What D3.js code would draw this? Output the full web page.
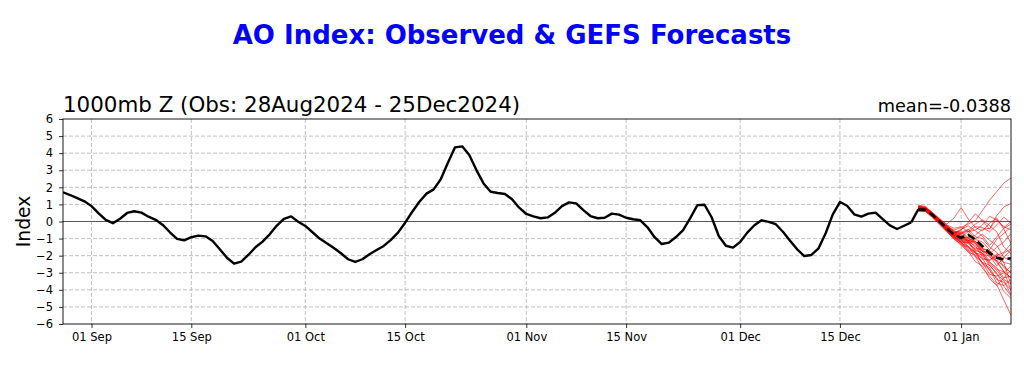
<!DOCTYPE html>
<html>
<head>
<meta charset="utf-8">
<script src="https://cdn.jsdelivr.net/npm/d3@7/dist/d3.min.js"></script>
<style>
  html, body { margin: 0; padding: 0; background: #fff; }
  svg { display: block; font-family: "DejaVu Sans", sans-serif; }
</style>
</head>
<body>
<svg id="chart" width="1024" height="366"></svg>
<script>
// ---------------- DATA ----------------
const titleText = "AO Index: Observed & GEFS Forecasts";
const subtitleLeft = "1000mb Z (Obs: 28Aug2024 - 25Dec2024)";
const subtitleRight = "mean=-0.0388";
const yLabel = "Index";

const obsStart = "2024-08-28";
const axisStart = "2024-08-28";
const axisEnd = "2025-01-08";
const fcstStart = "2024-12-26";

const xTickDates = ["2024-09-01","2024-09-15","2024-10-01","2024-10-15","2024-11-01",
                    "2024-11-15","2024-12-01","2024-12-15","2025-01-01"];
const yTicks = [-6,-5,-4,-3,-2,-1,0,1,2,3,4,5,6];

// observed daily AO index, 28 Aug 2024 .. 25 Dec 2024
const observed = [
  1.71,1.55,1.37,1.18,0.90,0.48,0.09,-0.10,0.16,0.50,
  0.60,0.52,0.28,0.10,-0.20,-0.63,-1.02,-1.10,-0.92,-0.83,
  -0.87,-1.14,-1.63,-2.12,-2.47,-2.35,-1.96,-1.51,-1.18,-0.75,
  -0.24,0.15,0.30,-0.01,-0.26,-0.63,-1.00,-1.27,-1.55,-1.86,
  -2.21,-2.37,-2.21,-1.92,-1.67,-1.43,-1.08,-0.65,-0.07,0.57,
  1.16,1.63,1.88,2.47,3.44,4.34,4.40,3.89,3.01,2.23,
  1.74,1.67,1.61,1.30,0.81,0.44,0.30,0.19,0.24,0.51,
  0.90,1.12,1.06,0.67,0.32,0.19,0.22,0.46,0.40,0.22,
  0.13,0.07,-0.34,-0.92,-1.32,-1.24,-0.91,-0.50,0.20,0.96,
  0.98,0.25,-0.85,-1.42,-1.53,-1.20,-0.65,-0.22,0.07,-0.02,
  -0.16,-0.60,-1.12,-1.63,-2.02,-1.96,-1.57,-0.69,0.42,1.14,
  0.92,0.42,0.29,0.46,0.52,0.14,-0.23,-0.44,-0.25,-0.05
];

// GEFS ensemble mean, 26 Dec 2024 .. 08 Jan 2025
const ensMean = [0.72,0.68,0.38,0.00,-0.40,-0.78,-0.95,-0.79,-1.05,-1.45,-1.85,-2.12,-2.22,-2.15];

// GEFS members, 26 Dec 2024 .. 08 Jan 2025
const members = [
  [0.92,0.84,0.50,0.08,-0.30,-0.50,-0.35,-0.15,0.05,0.65,1.25,1.75,2.25,2.55],
  [0.84,0.78,0.42,0.12,-0.15,0.20,0.82,0.15,-0.35,-0.55,-0.10,0.20,-0.45,-1.30],
  [0.78,0.70,0.36,0.02,-0.40,-0.72,-0.50,-0.05,0.45,0.05,-0.45,0.35,0.85,1.05],
  [0.66,0.62,0.28,-0.15,-0.55,-0.95,-1.05,-1.55,-1.75,-2.45,-2.70,-3.40,-3.55,-4.00],
  [0.82,0.72,0.42,0.02,-0.48,-0.90,-1.25,-1.70,-2.05,-2.75,-3.20,-3.70,-4.60,-5.50],
  [0.60,0.58,0.22,-0.20,-0.62,-1.00,-1.40,-1.75,-2.35,-2.60,-3.35,-3.75,-3.30,-2.85],
  [0.96,0.88,0.52,0.18,-0.22,-0.58,-0.72,-0.55,-1.05,-1.20,-1.65,-1.05,-0.70,-0.30],
  [0.74,0.71,0.34,-0.06,-0.46,-0.78,-0.98,-1.15,-1.70,-1.85,-2.50,-2.85,-3.40,-3.65],
  [0.70,0.66,0.30,-0.04,-0.38,-0.80,-0.90,-0.60,-0.30,-0.35,-0.60,-0.20,0.25,-0.10],
  [0.88,0.79,0.44,0.00,-0.36,-0.75,-0.85,-1.20,-1.40,-2.10,-2.35,-2.80,-2.95,-3.30],
  [0.79,0.74,0.36,-0.02,-0.44,-0.66,-0.55,-0.95,-1.25,-1.95,-2.00,-2.60,-2.10,-1.65],
  [0.71,0.65,0.33,-0.10,-0.52,-0.90,-1.10,-1.25,-1.60,-1.60,-2.10,-2.30,-2.95,-3.30],
  [0.83,0.77,0.46,0.06,-0.28,-0.60,-0.90,-0.95,-0.80,-0.45,-0.40,0.10,-0.30,-0.50],
  [0.64,0.61,0.25,-0.14,-0.58,-1.05,-1.30,-1.80,-1.95,-2.40,-2.55,-3.10,-3.45,-4.30],
  [0.90,0.83,0.49,0.11,-0.25,-0.55,-0.65,-1.00,-1.15,-1.70,-1.90,-1.50,-1.20,-0.70],
  [0.76,0.70,0.37,-0.03,-0.47,-0.80,-1.05,-1.20,-1.80,-2.15,-2.90,-3.30,-4.10,-4.50],
  [0.73,0.69,0.32,-0.05,-0.45,-0.84,-0.65,-0.45,-0.90,-1.00,-1.50,-1.80,-2.40,-2.50],
  [0.81,0.74,0.41,0.04,-0.34,-0.70,-0.95,-1.10,-1.50,-1.75,-2.30,-1.90,-2.70,-3.00],
  [0.68,0.63,0.30,-0.10,-0.54,-0.95,-1.20,-1.65,-1.85,-2.20,-2.25,-2.00,-1.80,-1.30],
  [0.87,0.80,0.47,0.09,-0.30,-0.62,-0.70,-0.50,-0.15,0.10,-0.25,-0.60,-1.50,-1.90],
  [0.77,0.72,0.38,0.00,-0.42,-0.82,-1.00,-1.45,-1.80,-2.50,-2.80,-3.60,-3.75,-3.40],
  [0.72,0.67,0.35,-0.07,-0.48,-0.85,-1.20,-1.25,-1.15,-1.60,-1.70,-2.30,-2.60,-3.00],
  [0.85,0.80,0.44,0.05,-0.33,-0.68,-0.78,-1.10,-1.30,-1.75,-1.85,-2.40,-2.90,-4.05],
  [0.62,0.60,0.27,-0.12,-0.56,-0.98,-1.35,-1.50,-1.85,-1.95,-2.60,-3.00,-3.80,-4.35],
  [0.80,0.73,0.40,0.01,-0.40,-0.72,-1.02,-1.15,-1.00,-0.75,-1.10,-1.40,-2.10,-2.30],
  [0.82,0.76,0.42,0.03,-0.35,-0.66,-0.45,-0.25,-0.55,-0.85,-1.40,-0.90,-0.40,-0.15],
  [0.70,0.64,0.29,-0.11,-0.50,-0.92,-1.25,-1.45,-2.05,-2.40,-3.10,-3.20,-3.00,-2.60],
  [0.84,0.78,0.45,0.08,-0.30,-0.64,-0.80,-1.00,-1.20,-1.60,-1.70,-2.10,-2.40,-3.70],
  [0.75,0.68,0.34,-0.04,-0.47,-0.86,-1.15,-1.30,-1.65,-1.85,-2.40,-2.70,-3.30,-3.20],
  [0.78,0.73,0.38,-0.01,-0.40,-0.77,-0.88,-1.10,-1.25,-1.75,-1.95,-2.30,-1.85,-1.60],
  [0.86,0.81,0.47,0.10,-0.20,-0.40,-0.30,-0.60,-0.50,-0.20,0.30,0.10,-0.35,0.00]
];

// ---------------- CHART ----------------
const svg = d3.select("#chart");
const W = 1024, H = 366;
const m = {left: 63, right: 1011, top: 119, bottom: 324};

svg.append("rect").attr("width", W).attr("height", H).attr("fill", "#fff");

const parse = d3.utcParse("%Y-%m-%d");
const x = d3.scaleUtc().domain([parse(axisStart), parse(axisEnd)]).range([m.left, m.right]);
const y = d3.scaleLinear().domain([-6, 6]).range([m.bottom, m.top]);

const obsPts = observed.map((v, i) => ({d: d3.utcDay.offset(parse(obsStart), i), v}));
const f0 = parse(fcstStart);
const toFc = arr => arr.map((v, i) => ({d: d3.utcDay.offset(f0, i), v}));

svg.append("defs").append("clipPath").attr("id", "clip")
  .append("rect").attr("x", m.left).attr("y", m.top)
  .attr("width", m.right - m.left).attr("height", m.bottom - m.top);

// grid
const grid = svg.append("g");
grid.selectAll("line.gy").data(yTicks.filter(t => t !== 0 && t !== 6 && t !== -6)).enter()
  .append("line").attr("x1", m.left).attr("x2", m.right)
  .attr("y1", d => y(d)).attr("y2", d => y(d))
  .attr("stroke", "#b0b0b0").attr("stroke-width", 0.8).attr("stroke-dasharray", "4,2");
grid.selectAll("line.gx").data(xTickDates.map(parse)).enter()
  .append("line").attr("y1", m.top).attr("y2", m.bottom)
  .attr("x1", d => x(d)).attr("x2", d => x(d))
  .attr("stroke", "#b0b0b0").attr("stroke-width", 0.8).attr("stroke-dasharray", "4,2");

// zero line
svg.append("line").attr("x1", m.left).attr("x2", m.right)
  .attr("y1", y(0)).attr("y2", y(0))
  .attr("stroke", "#555").attr("stroke-width", 1);

const line = d3.line().x(p => x(p.d)).y(p => y(p.v));
const plot = svg.append("g").attr("clip-path", "url(#clip)");

// members
plot.selectAll("path.mem").data(members.map(toFc)).enter()
  .append("path").attr("d", line).attr("fill", "none")
  .attr("stroke", "#ff0000").attr("stroke-opacity", 0.6).attr("stroke-width", 1);

// observed
plot.append("path").datum(obsPts).attr("d", line).attr("fill", "none")
  .attr("stroke", "#000").attr("stroke-width", 2.4).attr("stroke-linejoin", "round");

// connector obs -> forecast start
const meanPts = toFc(ensMean);
plot.append("path").datum([obsPts[obsPts.length - 1], meanPts[0]]).attr("d", line)
  .attr("fill", "none").attr("stroke", "#000").attr("stroke-width", 2.4);

// ensemble mean
plot.append("path").datum(meanPts).attr("d", line).attr("fill", "none")
  .attr("stroke", "#000").attr("stroke-width", 2.6).attr("stroke-dasharray", "8,4");

// axes
const xAxis = d3.axisBottom(x).tickValues(xTickDates.map(parse))
  .tickFormat(d3.utcFormat("%d %b")).tickSize(4).tickPadding(5);
const yAxis = d3.axisLeft(y).tickValues(yTicks).tickSize(4).tickPadding(6);

const gx = svg.append("g").attr("transform", `translate(0,${m.bottom})`).call(xAxis);
const gy = svg.append("g").attr("transform", `translate(${m.left},0)`).call(yAxis);
[gx, gy].forEach(g => {
  g.select(".domain").remove();
  g.selectAll("text").attr("font-family", "DejaVu Sans").attr("font-size", 11.5).attr("fill", "#000");
  g.selectAll("line").attr("stroke", "#000").attr("stroke-width", 0.8);
});

// frame
svg.append("rect").attr("x", m.left).attr("y", m.top)
  .attr("width", m.right - m.left).attr("height", m.bottom - m.top)
  .attr("fill", "none").attr("stroke", "#000").attr("stroke-width", 0.9);

// texts
svg.append("text").attr("x", 512).attr("y", 44).attr("text-anchor", "middle")
  .attr("font-size", 26).attr("font-weight", "bold").attr("fill", "#0000ff").text(titleText);
svg.append("text").attr("x", m.left).attr("y", 112).attr("font-size", 21.4).attr("fill", "#000").text(subtitleLeft);
svg.append("text").attr("x", m.right).attr("y", 112).attr("text-anchor", "end")
  .attr("font-size", 17.7).attr("fill", "#000").text(subtitleRight);
svg.append("text").attr("transform", `translate(30,${(m.top + m.bottom) / 2}) rotate(-90)`)
  .attr("text-anchor", "middle").attr("font-size", 18.7).attr("fill", "#000").text(yLabel);
</script>
</body>
</html>
